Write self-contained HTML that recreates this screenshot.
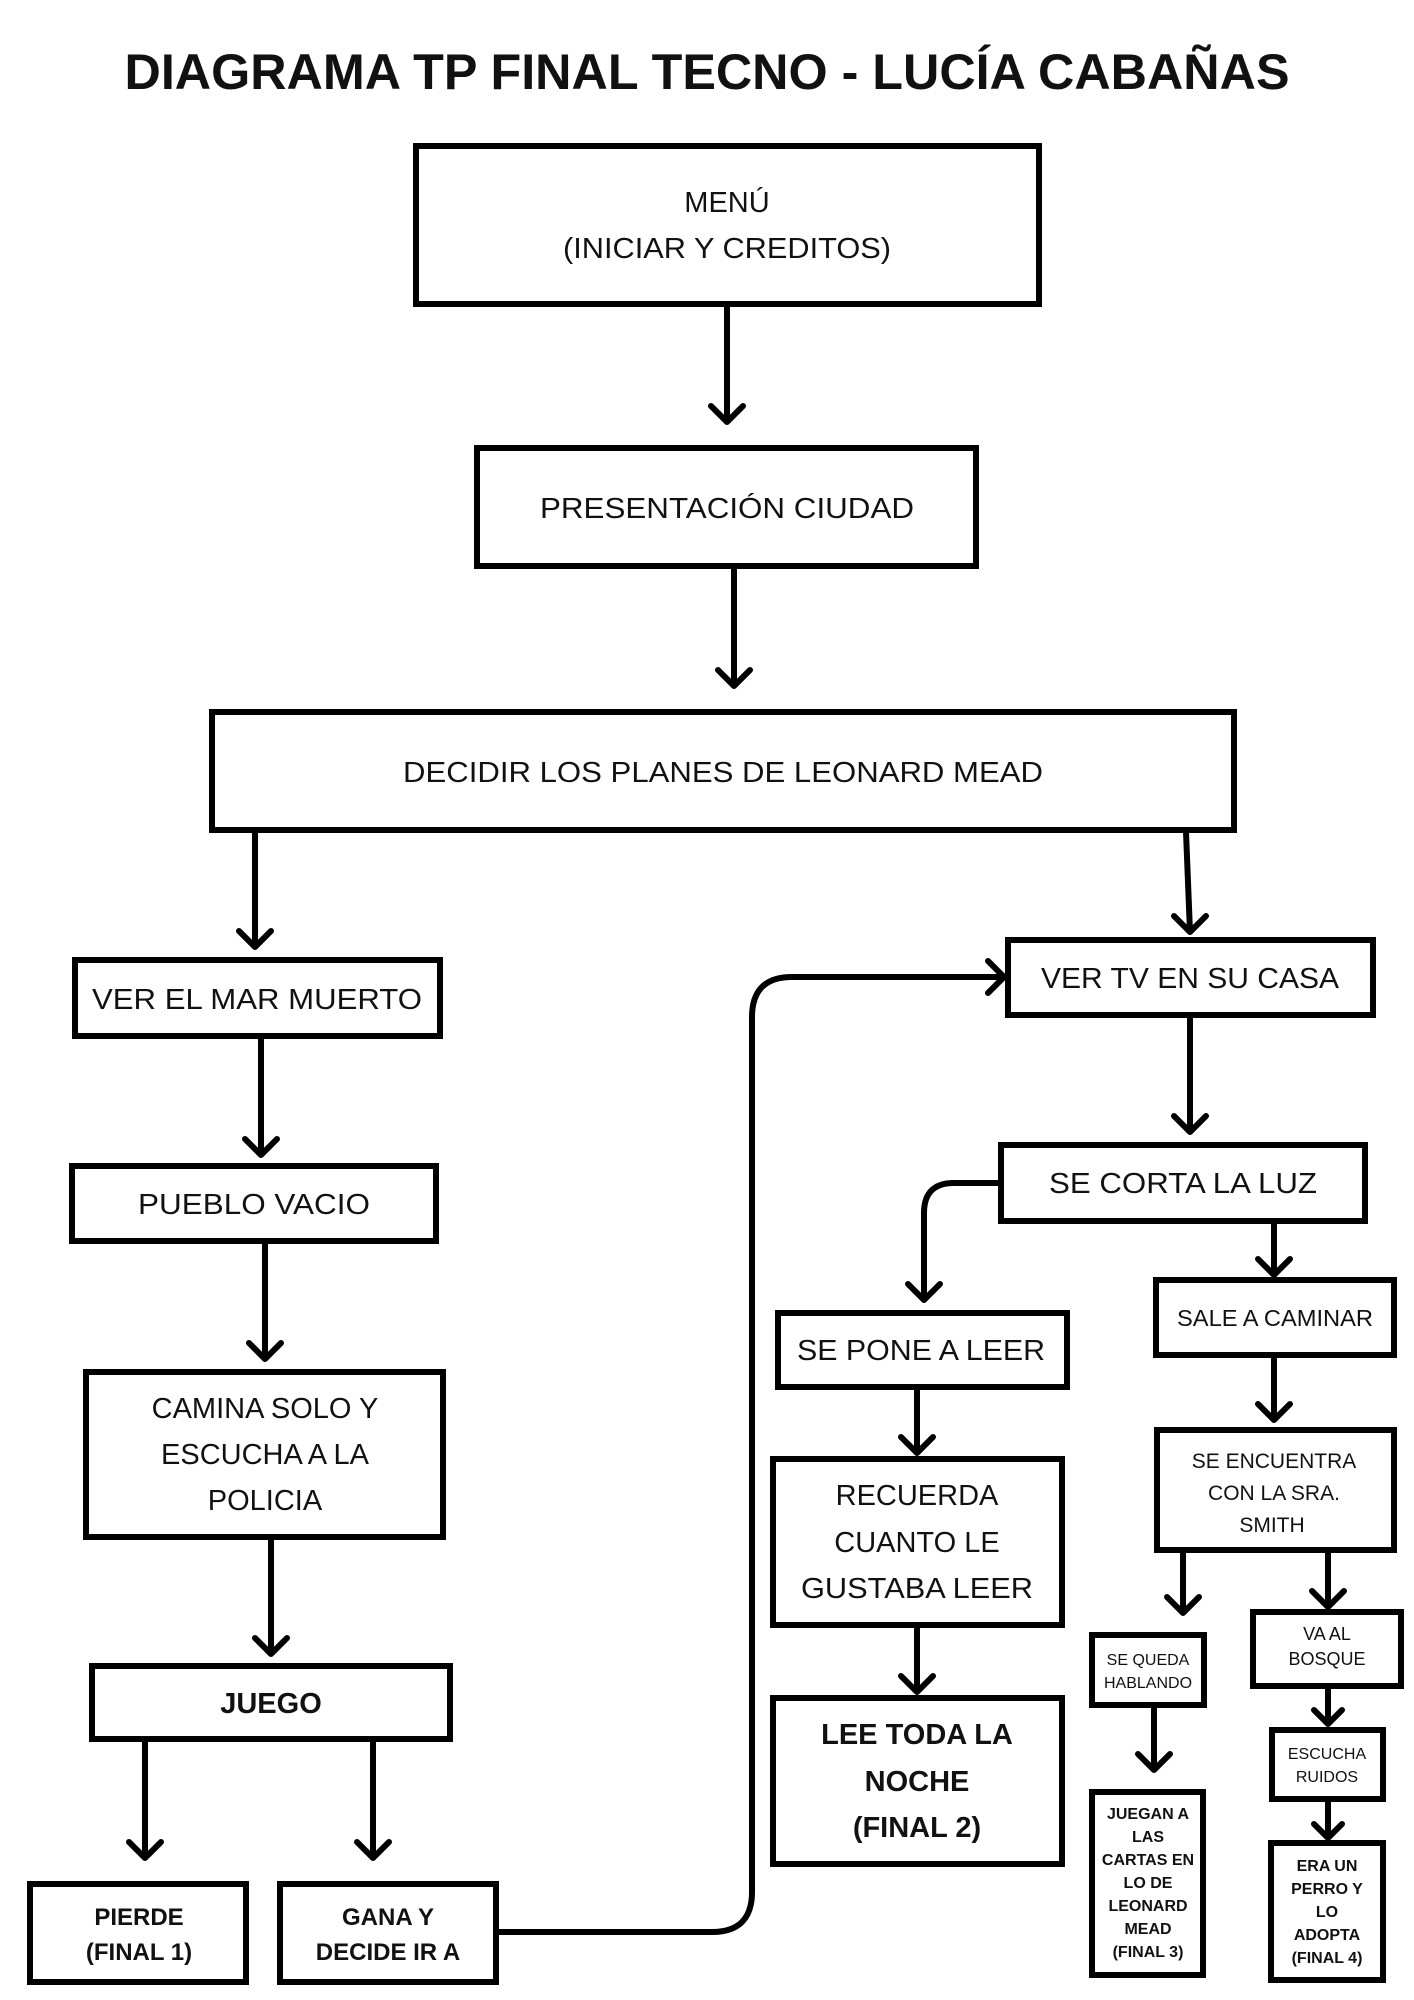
<!DOCTYPE html>
<html><head><meta charset="utf-8"><style>
html,body{margin:0;padding:0;background:#fff;}
svg{display:block;}
text{font-family:"Liberation Sans",sans-serif;fill:#111;text-anchor:middle;}
.b{font-weight:bold;}
</style></head><body>
<svg width="1414" height="2000" viewBox="0 0 1414 2000" xmlns="http://www.w3.org/2000/svg">
<g fill="#fff" stroke="#000" stroke-width="6">
<rect x="416" y="146" width="623" height="158"/>
<rect x="477" y="448" width="499" height="118"/>
<rect x="212" y="712" width="1022" height="118"/>
<rect x="75" y="960" width="365" height="76"/>
<rect x="1008" y="940" width="365" height="75"/>
<rect x="72" y="1166" width="364" height="75"/>
<rect x="86" y="1372" width="357" height="165"/>
<rect x="92" y="1666" width="358" height="73"/>
<rect x="30" y="1884" width="216" height="98"/>
<rect x="280" y="1884" width="216" height="98"/>
<rect x="1001" y="1145" width="364" height="76"/>
<rect x="778" y="1313" width="289" height="74"/>
<rect x="1156" y="1280" width="238" height="75"/>
<rect x="773" y="1459" width="289" height="166"/>
<rect x="773" y="1698" width="289" height="166"/>
<rect x="1157" y="1430" width="237" height="120"/>
<rect x="1092" y="1635" width="112" height="70"/>
<rect x="1253" y="1612" width="148" height="74"/>
<rect x="1272" y="1730" width="111" height="69"/>
<rect x="1092" y="1792" width="111" height="183"/>
<rect x="1271" y="1843" width="112" height="137"/>
</g>
<g fill="none" stroke="#000" stroke-width="6" stroke-linecap="round" stroke-linejoin="round">
<path d="M727 306V422M711 406L727 422L743 406"/>
<path d="M734 568V686M718 670L734 686L750 670"/>
<path d="M255 832V947M239 931L255 947L271 931"/>
<path d="M1186 832L1190 932M1174 916L1190 932L1206 916"/>
<path d="M261 1038V1155M245 1139L261 1155L277 1139"/>
<path d="M265 1243V1359M249 1343L265 1359L281 1343"/>
<path d="M271 1539V1654M255 1638L271 1654L287 1638"/>
<path d="M145 1741V1858M129 1842L145 1858L161 1842"/>
<path d="M373 1741V1858M357 1842L373 1858L389 1842"/>
<path d="M498 1932H712Q752 1932 752 1892V1017Q752 977 792 977H1004M988 961L1004 977L988 993"/>
<path d="M1190 1017V1132M1174 1116L1190 1132L1206 1116"/>
<path d="M999 1183H954Q924 1183 924 1213V1300M908 1284L924 1300L940 1284"/>
<path d="M1274 1223V1275M1258 1259L1274 1275L1290 1259"/>
<path d="M917 1389V1453M901 1437L917 1453L933 1437"/>
<path d="M917 1627V1692M901 1676L917 1692L933 1676"/>
<path d="M1274 1357V1420M1258 1404L1274 1420L1290 1404"/>
<path d="M1183 1552V1613M1167 1597L1183 1613L1199 1597"/>
<path d="M1328 1552V1607M1312 1591L1328 1607L1344 1591"/>
<path d="M1154 1707V1770M1138 1754L1154 1770L1170 1754"/>
<path d="M1328 1688V1724M1314 1710L1328 1724L1342 1710"/>
<path d="M1328 1801V1838M1314 1824L1328 1838L1342 1824"/>
</g>
<text x="707" y="89" class="b" font-size="50" textLength="1165" lengthAdjust="spacingAndGlyphs">DIAGRAMA TP FINAL TECNO - LUCÍA CABAÑAS</text>
<text x="727" y="212" font-size="29">MENÚ</text>
<text x="727" y="258" font-size="29" textLength="328" lengthAdjust="spacingAndGlyphs">(INICIAR Y CREDITOS)</text>
<text x="727" y="518" font-size="29" textLength="374" lengthAdjust="spacingAndGlyphs">PRESENTACIÓN CIUDAD</text>
<text x="723" y="782" font-size="29" textLength="640" lengthAdjust="spacingAndGlyphs">DECIDIR LOS PLANES DE LEONARD MEAD</text>
<text x="257" y="1009" font-size="29" textLength="330" lengthAdjust="spacingAndGlyphs">VER EL MAR MUERTO</text>
<text x="1190" y="988" font-size="29" textLength="298" lengthAdjust="spacingAndGlyphs">VER TV EN SU CASA</text>
<text x="254" y="1214" font-size="29" textLength="232" lengthAdjust="spacingAndGlyphs">PUEBLO VACIO</text>
<text x="265" y="1418" font-size="29">CAMINA SOLO Y</text>
<text x="265" y="1464" font-size="29">ESCUCHA A LA</text>
<text x="265" y="1510" font-size="29">POLICIA</text>
<text x="271" y="1713" class="b" font-size="29">JUEGO</text>
<text x="139" y="1925" class="b" font-size="24">PIERDE</text>
<text x="139" y="1960" class="b" font-size="24">(FINAL 1)</text>
<text x="388" y="1925" class="b" font-size="24">GANA Y</text>
<text x="388" y="1960" class="b" font-size="24">DECIDE IR A</text>
<text x="1183" y="1193" font-size="29" textLength="268" lengthAdjust="spacingAndGlyphs">SE CORTA LA LUZ</text>
<text x="921" y="1360" font-size="29" textLength="248" lengthAdjust="spacingAndGlyphs">SE PONE A LEER</text>
<text x="1275" y="1326" font-size="23" textLength="196" lengthAdjust="spacingAndGlyphs">SALE A CAMINAR</text>
<text x="917" y="1505" font-size="29">RECUERDA</text>
<text x="917" y="1552" font-size="29">CUANTO LE</text>
<text x="917" y="1598" font-size="29" textLength="232" lengthAdjust="spacingAndGlyphs">GUSTABA LEER</text>
<text x="917" y="1744" class="b" font-size="29">LEE TODA LA</text>
<text x="917" y="1791" class="b" font-size="29">NOCHE</text>
<text x="917" y="1837" class="b" font-size="29">(FINAL 2)</text>
<text x="1274" y="1468" font-size="21">SE ENCUENTRA</text>
<text x="1274" y="1500" font-size="21">CON LA SRA.</text>
<text x="1272" y="1532" font-size="21">SMITH</text>
<text x="1148" y="1665" font-size="16">SE QUEDA</text>
<text x="1148" y="1688" font-size="16">HABLANDO</text>
<text x="1327" y="1640" font-size="18">VA AL</text>
<text x="1327" y="1665" font-size="18">BOSQUE</text>
<text x="1327" y="1759" font-size="16">ESCUCHA</text>
<text x="1327" y="1782" font-size="16">RUIDOS</text>
<g font-size="16">
<text x="1148" y="1819" class="b">JUEGAN A</text>
<text x="1148" y="1842" class="b">LAS</text>
<text x="1148" y="1865" class="b">CARTAS EN</text>
<text x="1148" y="1888" class="b">LO DE</text>
<text x="1148" y="1911" class="b">LEONARD</text>
<text x="1148" y="1934" class="b">MEAD</text>
<text x="1148" y="1957" class="b">(FINAL 3)</text>
<text x="1327" y="1871" class="b">ERA UN</text>
<text x="1327" y="1894" class="b">PERRO Y</text>
<text x="1327" y="1917" class="b">LO</text>
<text x="1327" y="1940" class="b">ADOPTA</text>
<text x="1327" y="1963" class="b">(FINAL 4)</text>
</g>
</svg>
</body></html>
